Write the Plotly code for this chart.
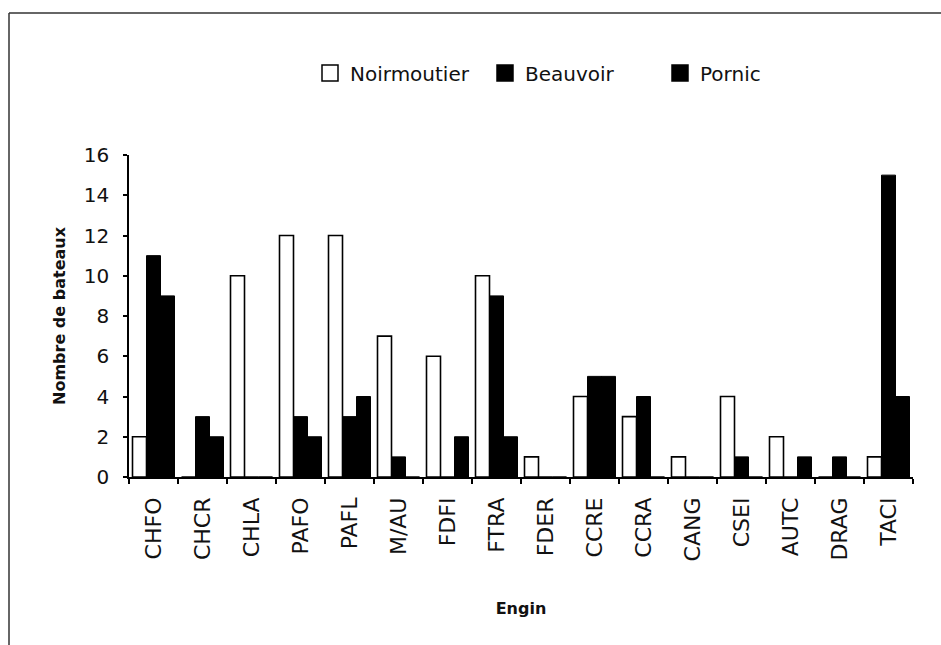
import plotly.graph_objects as go

# Fishing gear codes
engins = ["CHFO", "CHCR", "CHLA", "PAFO", "PAFL", "M/AU", "FDFI", "FTRA",
          "FDER", "CCRE", "CCRA", "CANG", "CSEI", "AUTC", "DRAG", "TACI"]

# Number of boats per harbour
noirmoutier = [2, 0, 10, 12, 12, 7, 6, 10, 1, 4, 3, 1, 4, 2, 0, 1]
beauvoir = [11, 3, 0, 3, 3, 1, 0, 9, 0, 5, 4, 0, 1, 0, 1, 15]
pornic = [9, 2, 0, 2, 4, 0, 2, 2, 0, 5, 0, 0, 0, 1, 0, 4]

series = [("Noirmoutier", noirmoutier, "white", 1.6),
          ("Beauvoir", beauvoir, "black", 1),
          ("Pornic", pornic, "black", 1)]

y_ticks = [0, 2, 4, 6, 8, 10, 12, 14, 16]

FONT = "DejaVu Sans"
W, H = 941, 645
ML, MR, MT, MB = 129, 28, 155, 168
PW, PH = W - ML - MR, H - MT - MB

fig = go.Figure()
for name, vals, fill, lw in series:
    fig.add_trace(go.Bar(name=name, x=engins, y=vals, showlegend=False,
                         legendgroup=name,
                         marker=dict(color=fill, line=dict(color="black", width=lw))))
# larger square keys for the legend
for name, vals, fill, lw in series:
    fig.add_trace(go.Scatter(name=name, x=[None], y=[None], mode="markers",
                             legendgroup=name,
                             marker=dict(symbol="square", size=18, color=fill,
                                         line=dict(color="black", width=1.5))))


def px_x(px):
    return (px - ML) / PW


def px_y(py):
    return (H - MB - py) / PH


# outer frame (top and left edges)
frame = [
    dict(x0=px_x(9), x1=px_x(941), y0=px_y(13), y1=px_y(13)),
    dict(x0=px_x(9), x1=px_x(9), y0=px_y(13), y1=px_y(645)),
]
shapes = [dict(type="line", xref="paper", yref="paper",
               line=dict(color="#333", width=1.5), **f) for f in frame]

fig.update_layout(
    width=W, height=H,
    margin=dict(l=ML, r=MR, t=MT, b=MB, pad=0),
    paper_bgcolor="white", plot_bgcolor="white",
    barmode="group", bargap=0.143, bargroupgap=0,
    font=dict(family=FONT, color="#111", size=17),
    showlegend=True,
    legend=dict(orientation="h", x=px_x(310), xanchor="left",
                y=px_y(73), yanchor="middle",
                font=dict(family=FONT, size=20, color="#111"),
                entrywidth=130, entrywidthmode="pixels",
                itemsizing="trace",
                bgcolor="rgba(0,0,0,0)", traceorder="normal"),
    shapes=shapes,
    xaxis=dict(
        title=dict(text="<b>Engin</b>", font=dict(size=16), standoff=42),
        showline=True, linecolor="black", linewidth=1.5,
        ticks="outside", ticklen=5, tickcolor="black", tickwidth=1.5,
        tickson="boundaries", tickangle=-90,
        tickfont=dict(size=22), ticklabelstandoff=10,
        showgrid=False, zeroline=False,
    ),
    yaxis=dict(
        title=dict(text="<b>Nombre de bateaux</b>", font=dict(size=16), standoff=14),
        range=[0, 16], tickvals=y_ticks,
        showline=True, linecolor="black", linewidth=1.5,
        ticks="outside", ticklen=4, tickcolor="black", tickwidth=1.5,
        tickfont=dict(size=20), ticklabelstandoff=10,
        showgrid=False, zeroline=False,
    ),
)

fig.write_html("out.html")
